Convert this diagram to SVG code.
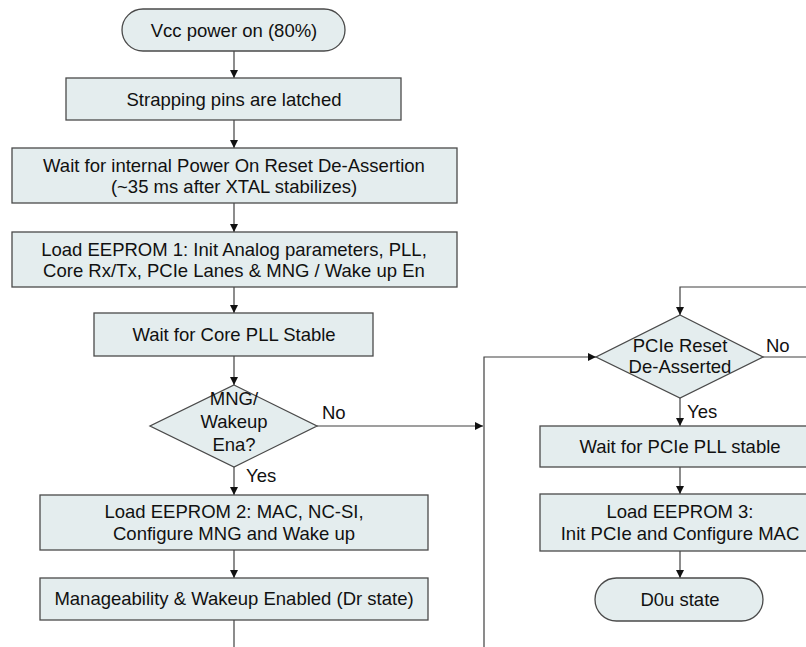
<svg xmlns="http://www.w3.org/2000/svg" width="806" height="647" viewBox="0 0 806 647">
<style>
.n{fill:#e4edee;stroke:#4a4a4a;stroke-width:1.3}
.t{font-family:"Liberation Sans",Arial,sans-serif;font-size:18.5px;fill:#111;text-anchor:middle}
.l{font-family:"Liberation Sans",Arial,sans-serif;font-size:18.5px;fill:#111}
.c{fill:none;stroke:#404040;stroke-width:1.2}
</style>
<defs>
<marker id="a" viewBox="0 0 10 10" refX="10" refY="5" markerWidth="8" markerHeight="8" markerUnits="userSpaceOnUse" orient="auto">
<path d="M0,0L10,5L0,10z" fill="#111"/>
</marker>
</defs>
<rect width="806" height="647" fill="#fff"/>
<g id="connectors">
<path class="c" d="M234,51V78" marker-end="url(#a)"/>
<path class="c" d="M234,120V148" marker-end="url(#a)"/>
<path class="c" d="M234,203V232" marker-end="url(#a)"/>
<path class="c" d="M234,287V313" marker-end="url(#a)"/>
<path class="c" d="M234,356V385" marker-end="url(#a)"/>
<path class="c" d="M234,467V495" marker-end="url(#a)"/>
<path class="c" d="M234,550V578" marker-end="url(#a)"/>
<path class="c" d="M234,620V647"/>
<path class="c" d="M317,426H483" marker-end="url(#a)"/>
<path class="c" d="M484,647V357H596" marker-end="url(#a)"/>
<path class="c" d="M806,287H680V315" marker-end="url(#a)"/>
<path class="c" d="M763,357H806"/>
<path class="c" d="M680,398V426" marker-end="url(#a)"/>
<path class="c" d="M680,467V494" marker-end="url(#a)"/>
<path class="c" d="M680,551V578" marker-end="url(#a)"/>
<text class="l" x="322" y="419">No</text>
<text class="l" x="246" y="482">Yes</text>
<text class="l" x="766" y="352">No</text>
<text class="l" x="687" y="418">Yes</text>
</g>
<g id="vcc"><rect class="n" x="122" y="9" width="223" height="42" rx="21"/><text class="t" x="234" y="36.5">Vcc power on (80%)</text></g>
<g id="strap"><rect class="n" x="66" y="78" width="335" height="42"/><text class="t" x="234" y="105.5">Strapping pins are latched</text></g>
<g id="por"><rect class="n" x="12" y="148" width="445" height="55"/><text class="t" x="234" y="172">Wait for internal Power On Reset De-Assertion</text><text class="t" x="234" y="193">(~35 ms after XTAL stabilizes)</text></g>
<g id="eeprom1"><rect class="n" x="12" y="232" width="445" height="55"/><text class="t" x="234" y="256">Load EEPROM 1: Init Analog parameters, PLL,</text><text class="t" x="234" y="277">Core Rx/Tx, PCIe Lanes &amp; MNG / Wake up En</text></g>
<g id="corepll"><rect class="n" x="94" y="313" width="279" height="43"/><text class="t" x="234" y="341">Wait for Core PLL Stable</text></g>
<g id="mng"><path class="n" d="M234,385L317,426L234,467L150,426Z"/><text class="t" x="234" y="405">MNG/</text><text class="t" x="234" y="428">Wakeup</text><text class="t" x="234" y="451">Ena?</text></g>
<g id="eeprom2"><rect class="n" x="40" y="495" width="388" height="55"/><text class="t" x="234" y="518">Load EEPROM 2: MAC, NC-SI,</text><text class="t" x="234" y="540">Configure MNG and Wake up</text></g>
<g id="dr"><rect class="n" x="40" y="578" width="388" height="42"/><text class="t" x="234" y="605">Manageability &amp; Wakeup Enabled (Dr state)</text></g>
<g id="pcierst"><path class="n" d="M680,315L763,357L680,398L596,357Z"/><text class="t" x="680" y="352">PCIe Reset</text><text class="t" x="680" y="373">De-Asserted</text></g>
<g id="pciepll"><rect class="n" x="540" y="426" width="279" height="41"/><text class="t" x="680" y="453">Wait for PCIe PLL stable</text></g>
<g id="eeprom3"><rect class="n" x="540" y="494" width="279" height="57"/><text class="t" x="680" y="518">Load EEPROM 3:</text><text class="t" x="680" y="540">Init PCIe and Configure MAC</text></g>
<g id="d0u"><rect class="n" x="595" y="578" width="168" height="43" rx="21.5"/><text class="t" x="680" y="606">D0u state</text></g>
</svg>
